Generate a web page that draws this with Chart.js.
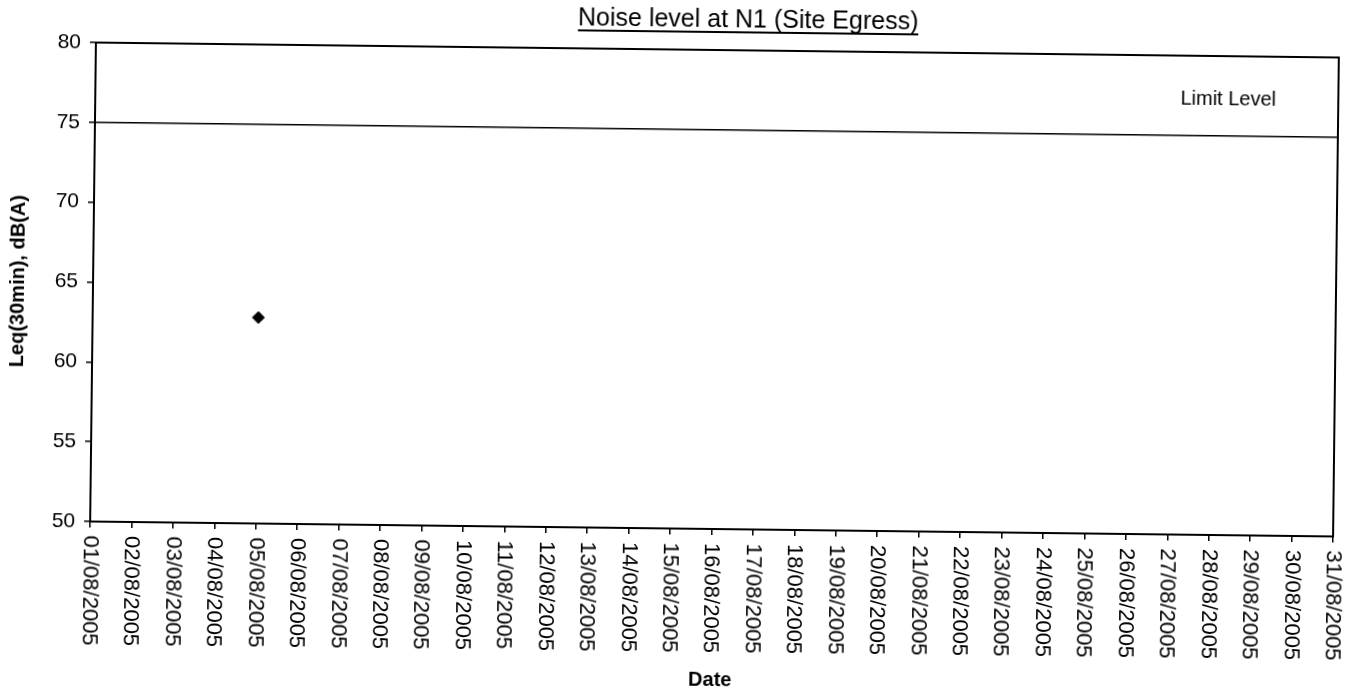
<!DOCTYPE html>
<html>
<head>
<meta charset="utf-8">
<title>Noise level at N1 (Site Egress)</title>
<script src="https://cdn.jsdelivr.net/npm/chart.js@4.4.1/dist/chart.umd.min.js"></script>
<style>
  html, body { margin: 0; padding: 0; background: #fff; }
  /* the scanned original sits a little skewed, so tilt the canvas the same way */
  #noise-chart { display: block; transform: rotate(0.69deg); transform-origin: 714px 289px; }
</style>
</head>
<body>
<canvas id="noise-chart" width="1356" height="696"></canvas>
<script>
// Data

var dates = ['01/08/2005', '02/08/2005', '03/08/2005', '04/08/2005', '05/08/2005', '06/08/2005',
  '07/08/2005', '08/08/2005', '09/08/2005', '10/08/2005', '11/08/2005', '12/08/2005',
  '13/08/2005', '14/08/2005', '15/08/2005', '16/08/2005', '17/08/2005', '18/08/2005',
  '19/08/2005', '20/08/2005', '21/08/2005', '22/08/2005', '23/08/2005', '24/08/2005',
  '25/08/2005', '26/08/2005', '27/08/2005', '28/08/2005', '29/08/2005', '30/08/2005',
  '31/08/2005'];

var measuredDates = ['05/08/2005'];
var measuredLeq = [62.9];

var limitDates = ['01/08/2005', '31/08/2005'];
var limitLeq = [75, 75];

var yTicks = [50, 55, 60, 65, 70, 75, 80];

var FONT = '"Liberation Sans", Arial, sans-serif';

// Frame round the plot area
var boxPlugin = {
  id: 'box',
  afterDraw: function (chart) {
    var a = chart.chartArea, ctx = chart.ctx;
    ctx.save();
    ctx.strokeStyle = '#000';
    ctx.lineWidth = 2;
    ctx.strokeRect(a.left, a.top, a.right - a.left, a.bottom - a.top);
    ctx.restore();
  }
};

// Underlined title and the "Limit Level" note
var textPlugin = {
  id: 'texts',
  afterDraw: function (chart) {
    var ctx = chart.ctx;
    ctx.save();
    ctx.fillStyle = '#000';
    ctx.strokeStyle = '#000';

    var title = 'Noise level at N1 (Site Egress)';
    ctx.font = '25px ' + FONT;
    ctx.textAlign = 'center';
    ctx.textBaseline = 'alphabetic';
    ctx.fillText(title, 745, 27);
    var w = ctx.measureText(title).width;
    ctx.lineWidth = 2;
    ctx.beginPath();
    ctx.moveTo(745 - w / 2, 32);
    ctx.lineTo(745 + w / 2, 32);
    ctx.stroke();

    ctx.font = '20px ' + FONT;
    ctx.fillText('Limit Level', 1226, 99);
    ctx.restore();
  }
};

// Date labels turned 90deg clockwise, reading downwards
var dateLabelPlugin = {
  id: 'dateLabels',
  afterDraw: function (chart) {
    var x = chart.scales.x, ctx = chart.ctx;
    ctx.save();
    ctx.fillStyle = '#000';
    ctx.font = '22px ' + FONT;
    ctx.textAlign = 'left';
    ctx.textBaseline = 'middle';
    dates.forEach(function (d, i) {
      ctx.save();
      ctx.translate(x.getPixelForValue(i), chart.chartArea.bottom + 14);
      ctx.rotate(Math.PI / 2);
      ctx.fillText(d, 0, 0);
      ctx.restore();
    });
    ctx.restore();
  }
};

var ctx = document.getElementById('noise-chart').getContext('2d');

var myChart = new Chart(ctx, {
  type: 'line',
  data: {
    labels: dates,
    datasets: [{
      label: 'Limit Level',
      data: limitDates.map(function (d, i) { return { x: d, y: limitLeq[i] }; }),
      borderColor: '#000',
      borderWidth: 1.5,
      pointRadius: 0,
      fill: false
    }, {
      label: 'Leq(30min)',
      data: measuredDates.map(function (d, i) { return { x: d, y: measuredLeq[i] }; }),
      showLine: false,
      pointStyle: 'rectRot',
      pointRadius: 6,
      backgroundColor: '#000',
      borderColor: '#000'
    }]
  },
  options: {
    responsive: false,
    animation: false,
    layout: { padding: { top: 50, right: 20, bottom: 0, left: 0 } },
    plugins: {
      legend: { display: false },
      tooltip: { enabled: false }
    },
    scales: {
      x: {
        type: 'category',
        offset: false,
        grid: { drawOnChartArea: false, color: '#000', tickLength: 6, lineWidth: 1.5 },
        border: { color: '#000', width: 2 },
        ticks: { display: false, autoSkip: false },
        title: {
          display: true,
          text: 'Date',
          color: '#000',
          font: { family: FONT, size: 20, weight: 'bold' },
          padding: { top: 0, bottom: 4 }
        },
        afterFit: function (scale) { scale.height = 167; }
      },
      y: {
        min: 50,
        max: 80,
        afterBuildTicks: function (scale) {
          scale.ticks = yTicks.map(function (v) { return { value: v }; });
        },
        grid: { drawOnChartArea: false, color: '#000', tickLength: 6, lineWidth: 1.5 },
        border: { color: '#000', width: 2 },
        ticks: { color: '#000', padding: 9, font: { family: FONT, size: 21 } },
        title: {
          display: true,
          text: 'Leq(30min), dB(A)',
          color: '#000',
          font: { family: FONT, size: 20, weight: 'bold' },
          padding: { top: 6, bottom: 0 }
        },
        afterFit: function (scale) { scale.width = 93; }
      }
    }
  },
  plugins: [boxPlugin, textPlugin, dateLabelPlugin]
});
</script>
</body>
</html>
